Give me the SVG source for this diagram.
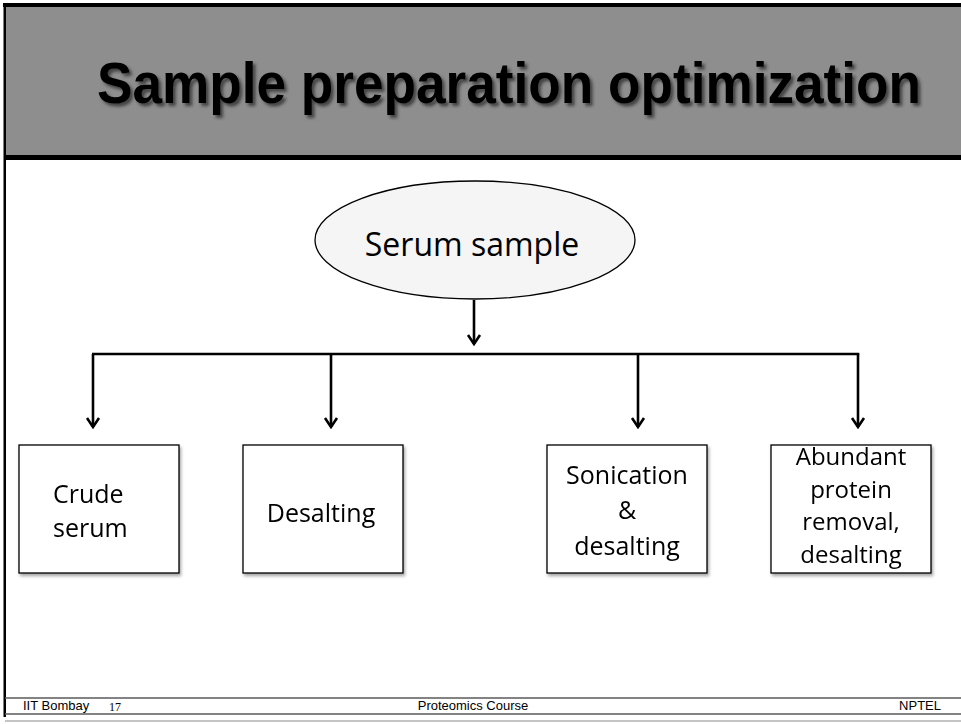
<svg xmlns="http://www.w3.org/2000/svg" width="961" height="724" viewBox="0 0 961 724">
  <style>
    .box { fill: #ffffff; stroke: #000000; stroke-width: 1.3; }
    .lbl { font-family: "Open Sans", "Noto Sans", sans-serif; font-size: 25px; fill: #000000; }
    .lbl-c { text-anchor: middle; }
    .lbl-sm { font-size: 24px; }
    .lbl-lg { font-size: 32px; }
    .title { font-family: "Liberation Sans", Arial, sans-serif; font-weight: bold; font-size: 58px; }
    .wire { fill: none; stroke: #000000; stroke-width: 2.6; }
    .foot { font-family: "Liberation Sans", Arial, sans-serif; font-size: 13px; fill: #000000; }
    .rule { stroke: #5a5a5a; stroke-width: 1.4; }
  </style>
  <defs>
    <marker id="arrow" viewBox="-12 -8 14 16" refX="0" refY="0" markerWidth="14" markerHeight="16" markerUnits="userSpaceOnUse" orient="auto">
      <path d="M-9,-6 L0,0 L-9,6" fill="none" stroke="#000000" stroke-width="2.6"/>
    </marker>
    <filter id="titleShadow" x="-5%" y="-30%" width="110%" height="170%">
      <feDropShadow dx="3" dy="3" stdDeviation="1.6" flood-color="#222222" flood-opacity="0.7"/>
    </filter>
    <filter id="boxShadow" x="-10%" y="-10%" width="125%" height="125%">
      <feDropShadow dx="1.5" dy="2.5" stdDeviation="1.5" flood-color="#000000" flood-opacity="0.35"/>
    </filter>
  </defs>

  <rect x="0" y="0" width="961" height="724" fill="#ffffff"/>

  <!-- title band -->
  <g id="header">
    <rect x="5" y="5" width="956" height="152" fill="#8e8e8e"/>
    <rect x="3" y="3" width="958" height="4" fill="#000000"/>
    <rect x="5" y="155" width="956" height="5" fill="#000000"/>
    <!-- heading set slightly condensed -->
    <g transform="translate(97,103) scale(0.9166,1)">
      <text class="title" x="0" y="0" fill="#000000" filter="url(#titleShadow)">Sample preparation optimization</text>
    </g>
  </g>

  <!-- left frame edge -->
  <rect x="3.5" y="3" width="2.5" height="714" fill="#000000"/>

  <!-- connectors -->
  <g id="connectors">
    <line class="wire" x1="474" y1="300" x2="474" y2="344" marker-end="url(#arrow)"/>
    <line class="wire" x1="92" y1="354" x2="859.3" y2="354"/>
    <line class="wire" x1="93" y1="354" x2="93" y2="427" marker-end="url(#arrow)"/>
    <line class="wire" x1="331" y1="354" x2="331" y2="427" marker-end="url(#arrow)"/>
    <line class="wire" x1="638" y1="354" x2="638" y2="427" marker-end="url(#arrow)"/>
    <line class="wire" x1="858" y1="354" x2="858" y2="427" marker-end="url(#arrow)"/>
  </g>

  <!-- nodes -->
  <g id="node-serum-sample">
    <ellipse cx="475" cy="240" rx="160" ry="59" fill="#f5f5f5" stroke="#000000" stroke-width="1.3"/>
    <text class="lbl lbl-lg lbl-c" x="472" y="256">Serum sample</text>
  </g>

  <g id="node-crude-serum" filter="url(#boxShadow)">
    <rect class="box" x="19" y="445" width="160" height="128"/>
    <text class="lbl" x="53" y="503">Crude</text>
    <text class="lbl" x="53" y="537">serum</text>
  </g>

  <g id="node-desalting" filter="url(#boxShadow)">
    <rect class="box" x="243" y="445" width="160" height="128"/>
    <text class="lbl lbl-c" x="321" y="522">Desalting</text>
  </g>

  <g id="node-sonication" filter="url(#boxShadow)">
    <rect class="box" x="547" y="445" width="160" height="128"/>
    <text class="lbl lbl-c" x="627" y="484">Sonication</text>
    <text class="lbl lbl-c" x="627" y="519">&amp;</text>
    <text class="lbl lbl-c" x="627" y="555">desalting</text>
  </g>

  <g id="node-abundant-removal" filter="url(#boxShadow)">
    <rect class="box" x="771" y="445" width="160" height="128"/>
    <text class="lbl lbl-sm lbl-c" x="851" y="465">Abundant</text>
    <text class="lbl lbl-sm lbl-c" x="851" y="497.5">protein</text>
    <text class="lbl lbl-sm lbl-c" x="851" y="530">removal,</text>
    <text class="lbl lbl-sm lbl-c" x="851" y="562.5">desalting</text>
  </g>

  <!-- footer -->
  <g id="footer">
    <line class="rule" x1="5" y1="698" x2="961" y2="698"/>
    <line class="rule" x1="5" y1="714" x2="961" y2="714"/>
    <line x1="5" y1="721" x2="961" y2="721" stroke="#c4c4c4" stroke-width="2"/>
    <text class="foot" x="23" y="709.5">IIT Bombay</text>
    <text x="109" y="711" font-family="'Liberation Serif', 'Times New Roman', serif" font-size="12" fill="#000000">17</text>
    <text class="foot" x="473" y="709.5" text-anchor="middle">Proteomics Course</text>
    <text class="foot" x="941" y="709.5" text-anchor="end">NPTEL</text>
  </g>
</svg>
